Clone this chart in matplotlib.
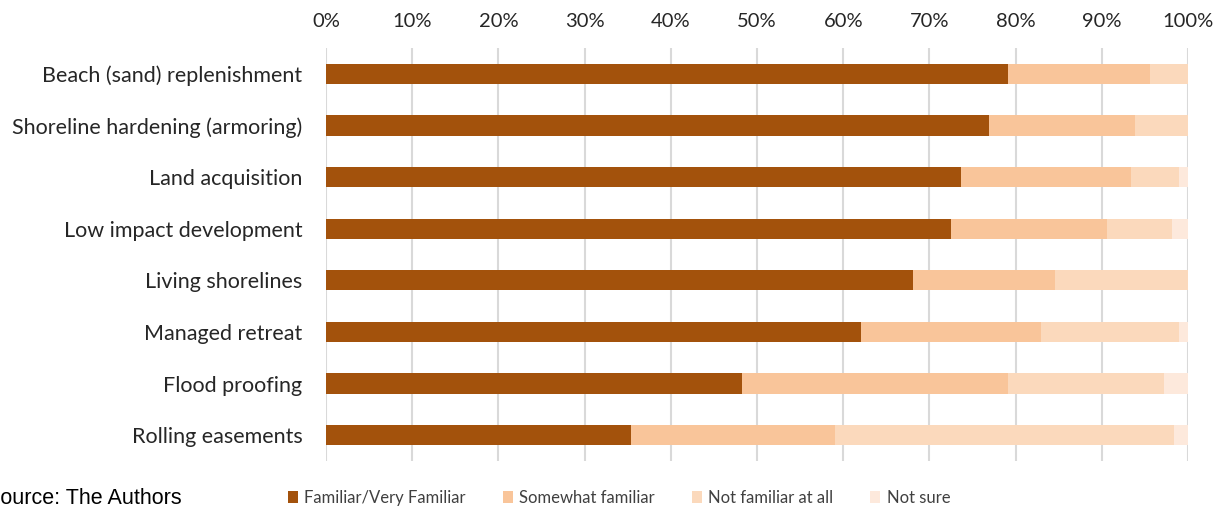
import matplotlib
matplotlib.use("Agg")
import matplotlib.pyplot as plt
import numpy as np

categories = ["Beach (sand) replenishment", "Shoreline hardening (armoring)", "Land acquisition",
              "Low impact development", "Living shorelines", "Managed retreat",
              "Flood proofing", "Rolling easements"]
series_names = ["Familiar/Very Familiar", "Somewhat familiar", "Not familiar at all", "Not sure"]
familiar = [79.1, 76.9, 73.7, 72.5, 68.1, 62.1, 48.3, 35.4]
somewhat = [16.5, 17.0, 19.7, 18.1, 16.5, 20.8, 30.8, 23.6]
not_familiar = [4.4, 6.1, 5.5, 7.6, 15.4, 16.0, 18.1, 39.4]
not_sure = [0.0, 0.0, 1.1, 1.8, 0.0, 1.1, 2.8, 1.6]
xticks = [0, 10, 20, 30, 40, 50, 60, 70, 80, 90, 100]
colors = ["#A3520C", "#F9C59A", "#FBD9BC", "#FDE9DC"]

plt.rcParams['font.family'] = ['Lato', 'DejaVu Sans']
fig = plt.figure(figsize=(12.25, 5.12), dpi=100)
ax = fig.add_axes([326/1225, 1 - 461/512, (1188-326)/1225, 413/512])

y = np.arange(len(categories))
left = np.zeros(len(categories))
for name, vals, c in zip(series_names, [familiar, somewhat, not_familiar, not_sure], colors):
    ax.barh(y, vals, left=left, height=0.39, color=c, label=name, zorder=3)
    left += np.array(vals)

ax.set_xlim(0, 100)
ax.set_ylim(len(categories) - 0.5, -0.5)
ax.set_yticks(y)
ax.set_yticklabels(categories, fontsize=15.5, color="#262626")
ax.set_xticks(xticks)
ax.set_xticklabels([f"{t}%" for t in xticks], fontsize=14.5, color="#262626")
ax.xaxis.tick_top()
ax.tick_params(axis='y', length=0, pad=17)
ax.tick_params(axis='x', length=0, pad=13)
ax.grid(axis='x', color="#D9D9D9", linewidth=1.5, zorder=0)
for s in ax.spines.values():
    s.set_visible(False)

leg = fig.legend(loc="center", bbox_to_anchor=(619/1225, 1 - 498/512), ncol=4, frameon=False,
                 fontsize=12, handlelength=0.6, handleheight=0.7, handletextpad=0.4, columnspacing=2.2)
for t in leg.get_texts():
    t.set_color("#404040")

fig.text(-14/1225, 1 - 498/512, "Source: The Authors", fontsize=15.5, family="Liberation Sans",
         va="center", ha="left", color="#000000")

fig.savefig("out.png", dpi=100)
